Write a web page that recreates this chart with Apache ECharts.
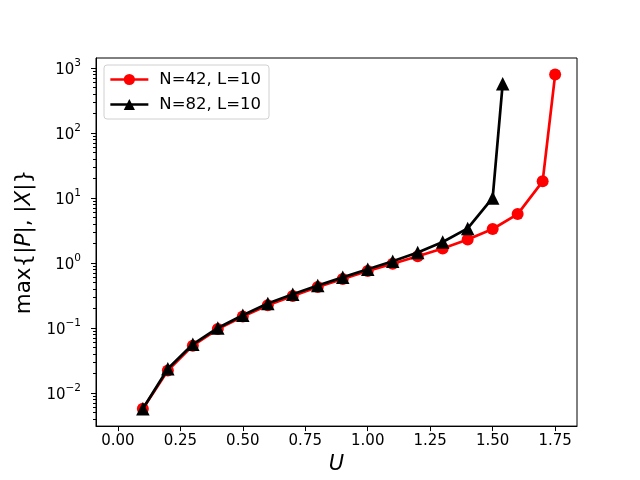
<!DOCTYPE html>
<html>
<head>
<meta charset="utf-8">
<script src="https://cdn.jsdelivr.net/npm/echarts@6/dist/echarts.min.js"></script>
<style>
  html, body { margin: 0; padding: 0; background: #fff; }
  #chart { width: 640px; height: 480px; }
</style>
</head>
<body>
<div id="chart"></div>
<script>
// U 值
const uRed = [0.1, 0.2, 0.3, 0.4, 0.5, 0.6, 0.7, 0.8, 0.9, 1.0, 1.1, 1.2, 1.3, 1.4, 1.5, 1.6, 1.7, 1.75];
const vRed = [0.0057, 0.0222, 0.0534, 0.096, 0.150, 0.224, 0.31, 0.427, 0.565, 0.75, 0.97, 1.27, 1.67, 2.29, 3.33, 5.65, 18.0, 790];
const uBlack = [0.1, 0.2, 0.3, 0.4, 0.5, 0.6, 0.7, 0.8, 0.9, 1.0, 1.1, 1.2, 1.3, 1.4, 1.5, 1.54];
const vBlack = [0.0057, 0.0235, 0.056, 0.100, 0.157, 0.237, 0.33, 0.45, 0.60, 0.80, 1.06, 1.45, 2.1, 3.4, 10.0, 570];
const xTicks = [0, 0.25, 0.5, 0.75, 1.0, 1.25, 1.5, 1.75];
const yTicks = [0.01, 0.1, 1, 10, 100, 1000];

const X_MIN = -0.0875, X_MAX = 1.8375;
const Y_MIN = 0.00309, Y_MAX = 1422;

// 对数轴的次刻度
const yMinor = [];
for (let e = -3; e <= 3; e++) {
  for (let k = 2; k <= 9; k++) {
    const v = k * Math.pow(10, e);
    if (v > Y_MIN && v < Y_MAX) yMinor.push(v);
  }
}

const FONT = 'DejaVu Sans';
const sup = (v) => {
  const e = Math.round(Math.log10(v));
  return '{b|10}{s|' + String(e).replace('-', '\u2212') + '}';
};

const chart = echarts.init(document.getElementById('chart'));
chart.setOption({
  animation: false,
  textStyle: { fontFamily: FONT },
  grid: {
    left: 96, right: 63, top: 58, bottom: 52,
    show: true, borderColor: '#000', borderWidth: 1, containLabel: false
  },
  legend: {
    orient: 'vertical',
    left: 104, top: 65,
    padding: [6, 8, 6, 5],
    itemGap: 8,
    itemWidth: 38, itemHeight: 14,
    backgroundColor: 'rgba(255,255,255,0.8)',
    borderColor: '#d0d0d0', borderWidth: 1, borderRadius: 3,
    lineStyle: { width: 2.7 },
    textStyle: { fontFamily: FONT, fontSize: 16.5, color: '#000', padding: [0, 0, 0, 6] },
    data: ['N=42, L=10', 'N=82, L=10']
  },
  xAxis: {
    type: 'value',
    min: X_MIN, max: X_MAX,
    name: 'U',
    nameLocation: 'middle',
    nameGap: 27,
    nameTextStyle: { fontFamily: FONT, fontSize: 21, fontStyle: 'italic', color: '#000' },
    axisLine: { show: true, onZero: false, lineStyle: { color: '#000', width: 1 } },
    axisTick: { show: true, length: 5, lineStyle: { color: '#000' }, customValues: xTicks },
    axisLabel: {
      color: '#000', fontSize: 15, margin: 8, customValues: xTicks,
      formatter: (v) => v.toFixed(2)
    },
    splitLine: { show: false }
  },
  yAxis: [{
    type: 'log',
    logBase: 10,
    min: Y_MIN, max: Y_MAX,
    position: 'left',
    name: 'max{|{i|P}|, |{i|X}|}',
    nameLocation: 'middle',
    nameGap: 54,
    nameTextStyle: {
      fontFamily: FONT, fontSize: 21.5, color: '#000',
      rich: { i: { fontFamily: FONT, fontSize: 21.5, fontStyle: 'italic', color: '#000' } }
    },
    axisLine: { show: true, onZero: false, lineStyle: { color: '#000', width: 1 } },
    axisTick: { show: true, length: 5, lineStyle: { color: '#000' }, customValues: yTicks },
    axisLabel: {
      margin: 15,
      customValues: yTicks,
      formatter: sup,
      rich: {
        b: { fontFamily: FONT, fontSize: 15, color: '#000', lineHeight: 20, verticalAlign: 'bottom' },
        s: { fontFamily: FONT, fontSize: 10.5, color: '#000', lineHeight: 20, verticalAlign: 'top' }
      }
    },
    splitLine: { show: false }
  }, {
    type: 'log',
    logBase: 10,
    min: Y_MIN, max: Y_MAX,
    position: 'left',
    axisLine: { show: false, onZero: false },
    axisTick: { show: true, length: 3, lineStyle: { color: '#000' }, customValues: yMinor },
    axisLabel: { show: false },
    splitLine: { show: false }
  }],
  series: [{
    name: 'N=42, L=10',
    type: 'line',
    yAxisIndex: 0,
    data: uRed.map((u, i) => [u, vRed[i]]),
    symbol: 'circle',
    symbolSize: 12,
    lineStyle: { color: '#ff0000', width: 2.7 },
    itemStyle: { color: '#ff0000' },
    z: 2
  }, {
    name: 'N=82, L=10',
    type: 'line',
    yAxisIndex: 0,
    data: uBlack.map((u, i) => [u, vBlack[i]]),
    symbol: 'triangle',
    symbolSize: 13.5,
    lineStyle: { color: '#000000', width: 2.7 },
    itemStyle: { color: '#000000' },
    z: 3
  }]
});
</script>
</body>
</html>
